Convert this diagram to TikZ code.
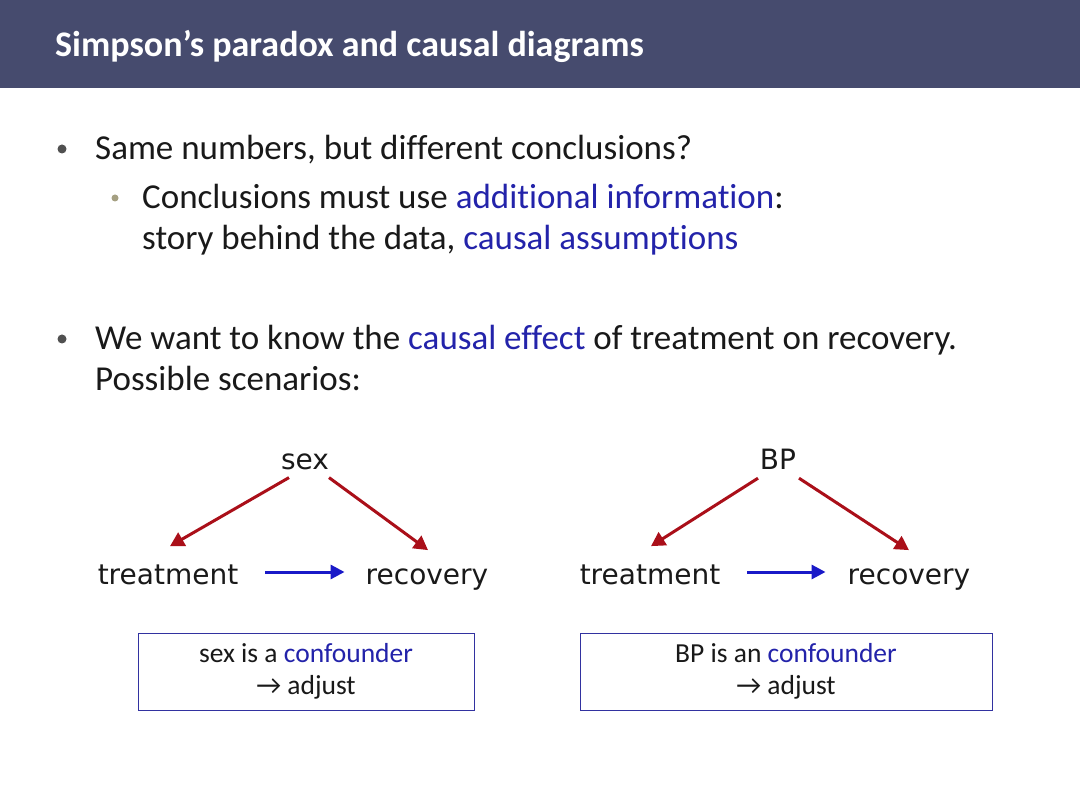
\documentclass[tikz,border=0pt]{standalone}
\usepackage{fontspec}
\setmainfont[RawFeature=-liga]{Carlito}
\newfontfamily\diagfont{DejaVu Sans}
\usetikzlibrary{arrows.meta,calc}
\definecolor{titlebg}{RGB}{70,75,110}
\definecolor{hl}{RGB}{35,35,170}
\definecolor{redarr}{RGB}{170,15,25}
\definecolor{bluearr}{RGB}{25,25,200}
\definecolor{boxborder}{RGB}{50,50,160}
\definecolor{bulletc}{RGB}{80,80,80}
\definecolor{subbullet}{RGB}{165,160,130}
\definecolor{bodyc}{RGB}{25,25,25}
\begin{document}
\begin{tikzpicture}[x=1pt,y=-1pt,
 bodytext/.style={anchor=base west, inner sep=0pt, font=\fontsize{35}{40}\selectfont, text=bodyc},
 var/.style={anchor=base, font=\diagfont\fontsize{28}{34}\selectfont, inner sep=2pt, text=bodyc},
 causal/.style={draw=redarr, line width=3pt, -{Triangle[length=14pt,width=15pt]}},
 direct/.style={draw=bluearr, line width=3pt, -{Triangle[length=14pt,width=14pt]}},
 concl/.style={draw=boxborder, line width=1pt, align=center, font=\fontsize{27.5}{32}\selectfont, text=bodyc, minimum height=77pt}
]
\useasboundingbox (0,0) rectangle (1080,810);
\fill[white] (0,0) rectangle (1080,810);
% title bar
\fill[titlebg] (0,0) rectangle (1080,88);
\node[anchor=base west, inner sep=0pt, text=white, font=\bfseries\fontsize{36}{40}\selectfont] (title) at (55,57) {Simpson’s paradox and causal diagrams};

% bullets
\fill[bulletc] (62,149) circle (4.5);
\node[bodytext] (l1) at (95,160) {Same numbers, but different conclusions?};
\fill[subbullet] (115,198) circle (3.5);
\node[bodytext] (l2) at (142,209) {Conclusions must use \textcolor{hl}{additional information}:};
\node[bodytext] (l3) at (142,250) {story behind the data, \textcolor{hl}{causal assumptions}};
\fill[bulletc] (62,339) circle (4.5);
\node[bodytext] (l4) at (95,350) {We want to know the \textcolor{hl}{causal effect} of treatment on recovery.};
\node[bodytext] (l5) at (95,391) {Possible scenarios:};

% left diagram
\node[var] (sex) at (305,469) {sex};
\node[var] (treatL) at (168,584) {treatment};
\node[var] (recL) at (427,584) {recovery};
\draw[causal] ($(sex.south)+(-16,6)$) -- ($(treatL.north)+(2,-16)$);
\draw[causal] ($(sex.south)+(24,6)$) -- ($(recL.north)+(1,-16)$);
\draw[direct] ($(treatL.base east)+(25,-12)$) -- ($(recL.base west)+(-19,-12)$);

% right diagram
\node[var] (bp) at (778,470) {BP};
\node[var] (treatR) at (650,584) {treatment};
\node[var] (recR) at (909,584) {recovery};
\draw[causal] ($(bp.south)+(-20,6)$) -- ($(treatR.north)+(1,-16)$);
\draw[causal] ($(bp.south)+(21,6)$) -- ($(recR.north)+(0,-16)$);
\draw[direct] ($(treatR.base east)+(25,-12)$) -- ($(recR.base west)+(-20,-12)$);

% conclusion boxes
\node[concl, minimum width=336pt] (boxL) at (306,671.5) {sex is a \textcolor{hl}{confounder}\\ \textrightarrow{} adjust};
\node[concl, minimum width=412pt] (boxR) at (786,671.5) {BP is an \textcolor{hl}{confounder}\\ \textrightarrow{} adjust};
\end{tikzpicture}
\end{document}
